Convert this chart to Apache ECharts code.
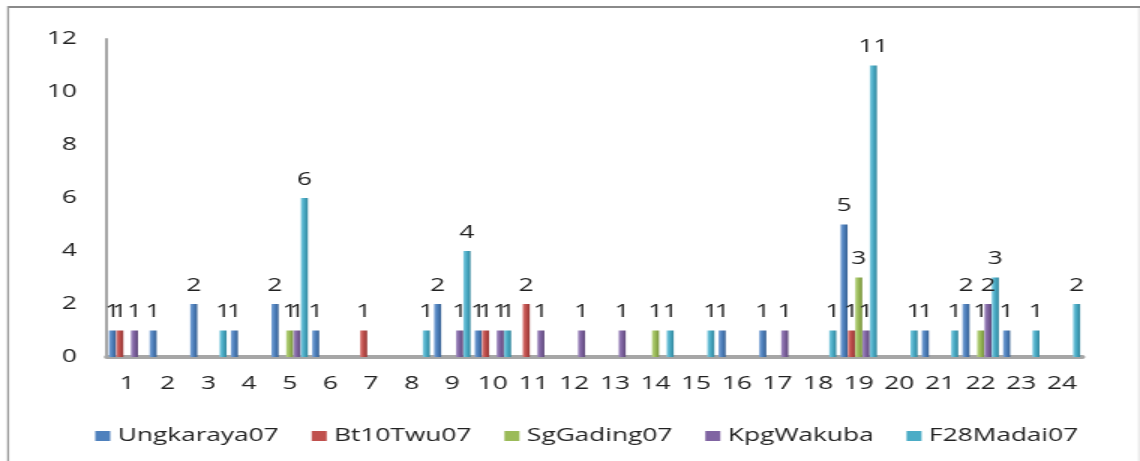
<!DOCTYPE html>
<html>
<head>
<meta charset="utf-8">
<script src="https://cdn.jsdelivr.net/npm/echarts@6/dist/echarts.min.js"></script>
<style>
  html, body { margin: 0; padding: 0; background: #ffffff; }
  #wrap { width: 1140px; height: 461px; overflow: hidden; position: relative; }
  /* the chart is laid out on a narrower canvas and widened 1.5x, giving the broad lettering */
  #chart { width: 760px; height: 461px; transform: scaleX(1.5); transform-origin: 0 0; }
</style>
</head>
<body>
<div id="wrap"><div id="chart"></div></div>
<script>
// Sites sampled (x categories 1..24) and counts per station
const categories = ['1','2','3','4','5','6','7','8','9','10','11','12','13','14','15','16','17','18','19','20','21','22','23','24'];
const seriesNames = ['Ungkaraya07', 'Bt10Twu07', 'SgGading07', 'KpgWakuba', 'F28Madai07'];

const ungkaraya07 = [1, 1, 2, 1, 2, 1, 0, 0, 2, 1, 0, 0, 0, 0, 0, 1, 1, 0, 5, 0, 1, 2, 1, 0];
const bt10Twu07   = [1, 0, 0, 0, 0, 0, 1, 0, 0, 1, 2, 0, 0, 0, 0, 0, 0, 0, 1, 0, 0, 0, 0, 0];
const sgGading07  = [0, 0, 0, 0, 1, 0, 0, 0, 0, 0, 0, 0, 0, 1, 0, 0, 0, 0, 3, 0, 0, 1, 0, 0];
const kpgWakuba   = [1, 0, 0, 0, 1, 0, 0, 0, 1, 1, 1, 1, 1, 0, 0, 0, 1, 0, 1, 0, 0, 2, 0, 0];
const f28Madai07  = [0, 0, 1, 0, 6, 0, 0, 1, 4, 1, 0, 0, 0, 1, 1, 0, 0, 1, 11, 1, 1, 3, 1, 2];

const yTicks = [0, 2, 4, 6, 8, 10, 12];

const seriesValues = [ungkaraya07, bt10Twu07, sgGading07, kpgWakuba, f28Madai07];
const baseColors = ['#4F81BD', '#C0504D', '#9BBB59', '#8064A2', '#4BACC6'];
const lightColors = ['#7aa3d6', '#d97a77', '#b8d483', '#a08bc0', '#7fcbe0'];
const darkColors = ['#365f91', '#943634', '#76923c', '#5f497a', '#31859b'];

const fontFamily = '"Open Sans", "Liberation Sans", sans-serif';
const fontSize = 17.5;

const chart = echarts.init(document.getElementById('chart'), null, { renderer: 'canvas' });

const series = seriesNames.map((name, i) => ({
  name: name,
  type: 'bar',
  data: seriesValues[i],
  barWidth: 4.7,
  barGap: '4%',
  itemStyle: {
    color: new echarts.graphic.LinearGradient(0, 0, 1, 0, [
      { offset: 0, color: lightColors[i] },
      { offset: 0.45, color: baseColors[i] },
      { offset: 1, color: darkColors[i] }
    ])
  },
  label: {
    show: true,
    position: 'top',
    distance: 9,
    color: '#222222',
    fontSize: fontSize,
    fontFamily: fontFamily,
    formatter: p => (p.value ? String(p.value) : '')
  },
  emphasis: { disabled: true }
}));

chart.setOption({
  animation: false,
  backgroundColor: '#ffffff',
  color: baseColors,
  grid: { left: 71.2, right: 38.5, top: 39, bottom: 104, containLabel: false },
  legend: {
    data: seriesNames.map((n, i) => ({ name: n, itemStyle: { color: baseColors[i] } })),
    top: 422,
    left: 58.5,
    itemWidth: 10,
    itemHeight: 10,
    itemGap: 22,
    icon: 'rect',
    textStyle: { fontSize: fontSize, color: '#222222', fontFamily: fontFamily }
  },
  xAxis: {
    type: 'category',
    data: categories,
    axisLine: { show: true, lineStyle: { color: '#a6a6a6', width: 4 } },
    axisTick: { show: false },
    axisLabel: { fontSize: fontSize, color: '#222222', margin: 18, fontFamily: fontFamily, interval: 0 }
  },
  yAxis: {
    type: 'value',
    min: 0,
    max: 12,
    interval: 2,
    axisLine: { show: true, lineStyle: { color: '#a6a6a6', width: 2 } },
    axisTick: { show: false },
    splitLine: { show: false },
    axisLabel: {
      fontSize: fontSize,
      color: '#222222',
      margin: 20,
      padding: [6, 0, 0, 0],
      fontFamily: fontFamily,
      formatter: v => (yTicks.indexOf(v) >= 0 ? String(v) : '')
    }
  },
  graphic: [
    { type: 'line', shape: { x1: 5.3, y1: 7, x2: 760, y2: 7 }, style: { stroke: '#8a8a8a', lineWidth: 2 } },
    { type: 'line', shape: { x1: 5.4, y1: 6, x2: 5.4, y2: 461 }, style: { stroke: '#9a9a9a', lineWidth: 1.3 } },
    { type: 'line', shape: { x1: 759.2, y1: 8, x2: 759.2, y2: 461 }, style: { stroke: '#dddddd', lineWidth: 0.8 } }
  ],
  series: series
});
</script>
</body>
</html>
